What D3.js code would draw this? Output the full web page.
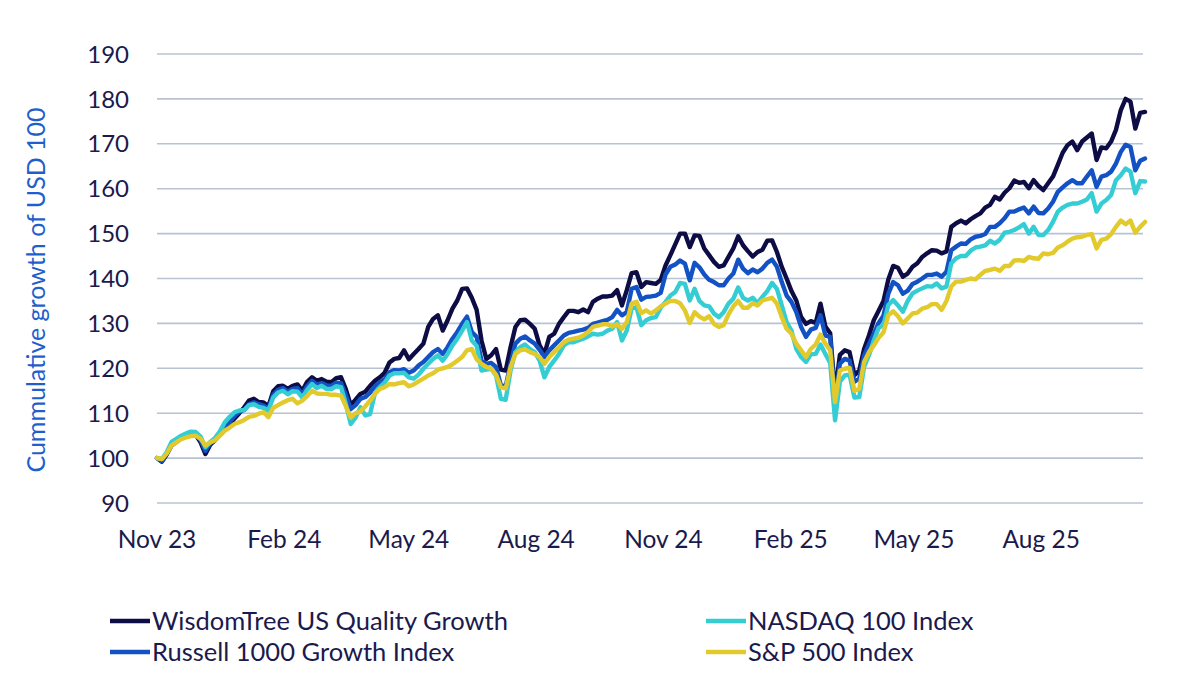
<!DOCTYPE html>
<html>
<head>
<meta charset="utf-8">
<script src="https://cdn.jsdelivr.net/npm/d3@7/dist/d3.min.js"></script>
<style>
  html, body { margin: 0; padding: 0; background: #ffffff; }
  svg { display: block; }
  text { font-family: Lato, "Open Sans", sans-serif; }
</style>
</head>
<body>
<svg id="chart" width="1200" height="676"></svg>
<script>
// ---- Data (readings every half week, index 100 at start) ----
const startDate = "2023-11-01";
const stepHours = 84; // 3.5 days between readings

const wisdomTree = [100,99.2,100.8,102.8,103.6,104.4,104.8,105,105.2,103.5,100.9,103,104,105.3,106.8,107.6,108.8,110,111.3,112.8,113.2,112.5,112.4,111.5,114.9,116,116.1,115.4,116.1,116.4,115,117,118,117.2,117.6,117,116.9,117.8,118,115.3,111.8,113,114.3,114.8,116.1,117.2,118,119,121.3,122.1,122.3,124,122,123.2,124.3,125.5,129.2,131,131.8,128.4,130.7,133.3,135.1,137.7,137.8,135.7,133,126.2,122.1,122.9,124.3,119.7,119.5,124.7,129.2,130.7,130.8,129.9,128.8,125.1,123.2,127,127.7,129.9,131.4,132.8,132.8,132.5,133.1,132.5,134.8,135.5,136,136,136.2,137.4,134,137.4,141.2,141.4,138.1,139.2,139,138.8,139.7,142.9,145.2,147.6,150,150,147,149.6,149.5,146.7,145.2,143.7,142.6,142.9,144.8,146.7,149.4,147.4,146.1,144.9,145.9,146.4,148.4,148.5,145.9,142.6,140,137.2,135.1,131.4,129.9,130.5,130.1,134.4,129.3,127.8,114.3,123,124,123.6,118.5,119.5,124.3,127.3,130.7,132.8,135,139.8,142.8,142.4,140.4,141.1,142.6,143.4,144.8,145.6,146.3,146.2,145.6,146,151.5,152.3,152.9,152.3,153.2,153.9,154.5,155.8,156.4,158.2,157.6,159.1,160.1,161.8,161.3,161.5,160.1,161.9,160.6,159.7,161.2,162.7,165.3,168,169.7,170.5,168.6,170.5,171.4,172.3,166.4,169.2,169,170.5,173.1,177.5,180,179.4,173.4,176.9,177.1];

const russell1000G = [100,99.3,101,103,103.8,104.6,105,105.2,105.3,104,101.6,103.3,104.2,105.5,107.2,108,109.4,110.3,110.7,112,112.4,112,111.7,111,114.1,115.2,115.6,114.8,115.4,115.6,114.3,116,117.2,116.4,116.7,116.2,116.1,116.8,116.7,114,110.9,111.8,113.2,113.6,114.6,116,116.9,117.5,119.1,119.6,119.5,119.8,119,119.5,120.6,121.4,122.5,123.6,124.3,123.2,124.7,126.6,128.1,129.9,131.5,128.1,127,121.7,121,121.2,120.3,116.2,116,121,125.5,126.6,127.1,126.2,125.5,124.1,122.5,124,125.1,126.2,127.3,127.9,128.1,128.4,128.6,129,129.9,130.2,130.5,130.8,131.4,133,131.8,132.5,137.7,138.1,135.3,135.9,136,136.2,136.8,140.9,142.6,143.1,144,143.3,139.6,143.5,142.5,140.9,139.7,139.2,138.5,138.5,140,141.1,144.2,142.2,141.2,142,141.4,142.2,143.5,144.2,142.6,139.2,136.2,134.8,132.5,129.2,127,128.6,129,131.8,127.3,127,112.8,121,122.1,121.7,117,117.7,122.9,125.3,127.7,130.1,131.7,136.6,139.2,138.5,136.6,137.3,138.8,139.3,140,140.8,140.8,141.1,140.4,141.5,146.3,147.1,147.8,147.7,148.7,149.3,149.5,149.9,151.5,151.5,152.3,153.4,154.9,154.9,155.4,155.8,154.5,156,154.6,154.5,155.6,157.1,159.3,160.3,161.2,161.9,161.2,161.2,162.7,164.1,160.4,162.7,163,163.8,165.6,168.2,169.8,169.3,164.1,166.2,166.7];

const nasdaq100 = [100,99.8,101.3,103.6,104.3,105,105.5,105.9,105.8,104.8,102.4,103.6,104.5,106,108,109.2,110.2,110.6,110.7,111.8,112,111.4,111.2,110.6,113.5,114.6,115,114.2,114.9,114.8,113.5,115.2,116.5,115.6,116.1,115.4,115.4,116,115.8,112,107.6,109,111.3,109.5,109.8,114.5,115.8,116.8,118.4,118.9,118.9,119,118,117.7,118.6,119.9,121,122.1,122.9,121.7,123.2,125.1,126.6,128.4,130.3,126.2,125,119.5,119.7,119.9,118.4,113.2,113,119.5,123.6,124.7,125.3,124.3,123.6,121.7,118,120.3,121.7,123.2,125.1,125.8,125.8,126.2,126.6,127.1,127.7,127.5,127.7,128.4,128.8,130.3,126.2,128.4,133.3,133.6,129.6,130.7,131.2,131.4,133.5,134.8,136.2,137,139,138.8,135.1,137.7,135,134,133.8,132.2,131.4,132.5,134.4,135.5,138,135.7,135.1,135.7,134.5,135.9,137.2,139,137.7,134,130.3,128.4,124.3,122.5,121.4,123.1,123.2,125.3,123.2,121.2,108.4,117,118.4,118.6,113.5,113.6,120.3,122.9,126.2,129,129.6,134.1,135.2,134,132.6,135,136.7,137.3,137.8,138.3,138.2,138.9,137.8,138.2,143.4,144.5,145,145,146.2,146.9,147.1,147.4,148.4,147.8,148.6,150.2,150.4,150.8,151.4,152.1,150,151.5,149.7,149.7,150.8,152.6,154.9,155.8,156.4,156.7,156.7,157.1,157.6,159,154.9,156.7,157.5,158.6,161.9,163,164.5,163.8,159,161.7,161.6];

const sp500 = [100,99.8,101,102.8,103.5,104.2,104.6,104.9,105,104.3,102.8,103.5,104,105,106.1,106.8,107.6,108,108.5,109.2,109.4,109.9,110.2,109.1,111.2,111.8,112.4,112.9,113.2,112.2,112.8,113.8,115,114.4,114.3,114.3,114.1,114.1,113.9,111.5,109,110,110.4,111.5,112.8,114.3,115.4,115.8,116.5,116.4,116.7,116.9,116,116.4,117.1,117.7,118.4,118.9,119.7,120,120.3,120.9,121.7,122.5,124,124.3,122,121,120.3,119.9,118.6,115.8,115.5,120.3,123.2,124,124.2,123.6,123.2,122.5,121,122.5,123.6,124.7,125.8,126.4,126.6,126.8,127.3,128.1,129.2,129.5,129.8,129.8,129.3,129.8,128.8,130.3,134.4,134.8,132.3,132.9,132.2,132.9,133.8,134.4,135,135,134.5,132.9,130.1,132.5,131.5,130.9,131.6,129.9,129.2,129.6,132,133.8,135,133.5,133.5,134.5,134,135.1,135.4,135.7,134.4,131.4,128.8,127.7,125.5,124,122.5,124.3,125.3,127.5,125.5,124,112.5,119.5,119.9,120.1,115,115.4,121.4,123.6,125.1,126.8,128,131.8,132.7,131.6,130,131.1,132.2,132.4,133.3,133.6,134.3,134.3,133,135,138.2,139.3,139.3,139.7,140,139.8,140.8,141.7,141.9,142.2,141.7,142.8,142.8,144,144.1,143.9,144.8,144.5,144.4,145.6,145.4,145.7,146.9,147.4,148.2,148.9,149.2,149.3,149.7,149.9,146.7,148.6,148.9,149.9,151.5,152.9,152.1,152.9,150.2,151.5,152.6];

const seriesNames = ["WisdomTree US Quality Growth", "Russell 1000 Growth Index", "NASDAQ 100 Index", "S&P 500 Index"];
const seriesColors = ["#0d0c45", "#1352c4", "#35cdd4", "#e2c92c"];
const yTicks = [90,100,110,120,130,140,150,160,170,180,190];
const xTickDates = ["2023-11-01","2024-02-01","2024-05-01","2024-08-01","2024-11-01","2025-02-01","2025-05-01","2025-08-01"];
const xTickLabels = ["Nov 23","Feb 24","May 24","Aug 24","Nov 24","Feb 25","May 25","Aug 25"];
const yTitle = "Cummulative growth of USD 100";

// ---- Build ----
const parse = d3.utcParse("%Y-%m-%d");
const t0 = parse(startDate);
const allSeries = [wisdomTree, russell1000G, nasdaq100, sp500];
const nMax = d3.max(allSeries, s => s.length);
const dateAt = i => d3.utcHour.offset(t0, i * stepHours);

const svg = d3.select("#chart");
const x = d3.scaleUtc().domain([t0, d3.utcDay.offset(t0, 714)]).range([157, 1145]);
const y = d3.scaleLinear().domain([90, 190]).range([503, 54]);
const gridX0 = 157, gridX1 = 1143;
const textColor = "#1b1a4c";

// gridlines
svg.append("g").selectAll("line").data(yTicks).join("line")
  .attr("x1", gridX0).attr("x2", gridX1)
  .attr("y1", d => y(d)).attr("y2", d => y(d))
  .attr("stroke", "#b7c3d2").attr("stroke-width", 1.6);

// y labels
svg.append("g").selectAll("text").data(yTicks).join("text")
  .attr("x", 129).attr("y", d => y(d)).attr("dy", "0.36em")
  .attr("text-anchor", "end").attr("font-size", 24).attr("fill", textColor)
  .text(d => d);

// x labels
svg.append("g").selectAll("text").data(xTickDates).join("text")
  .attr("x", d => x(parse(d))).attr("y", 548)
  .attr("text-anchor", "middle").attr("font-size", 24.5).attr("fill", textColor)
  .text((d, i) => xTickLabels[i]);

// y title
svg.append("text")
  .attr("transform", "translate(45,290) rotate(-90)")
  .attr("text-anchor", "middle").attr("font-size", 25).attr("fill", "#1f5fcc")
  .text(yTitle);

// lines
const line = d3.line().x((d, i) => x(dateAt(i))).y(d => y(d)).curve(d3.curveLinear);
svg.append("g").selectAll("path").data(allSeries).join("path")
  .attr("d", d => line(d))
  .attr("fill", "none")
  .attr("stroke", (d, i) => seriesColors[i])
  .attr("stroke-width", 4.4)
  .attr("stroke-linejoin", "round").attr("stroke-linecap", "round");

// legend
const legendPos = [[110, 621], [110, 652], [706, 621], [706, 652]];
const lg = svg.append("g");
seriesNames.forEach((name, s) => {
  const [lx, ly] = legendPos[s];
  lg.append("line").attr("x1", lx).attr("x2", lx + 40).attr("y1", ly).attr("y2", ly)
    .attr("stroke", seriesColors[s]).attr("stroke-width", 4.5);
  lg.append("text").attr("x", lx + 42).attr("y", ly).attr("dy", "0.36em")
    .attr("font-size", 25.5).attr("fill", textColor).text(name);
});
</script>
</body>
</html>
